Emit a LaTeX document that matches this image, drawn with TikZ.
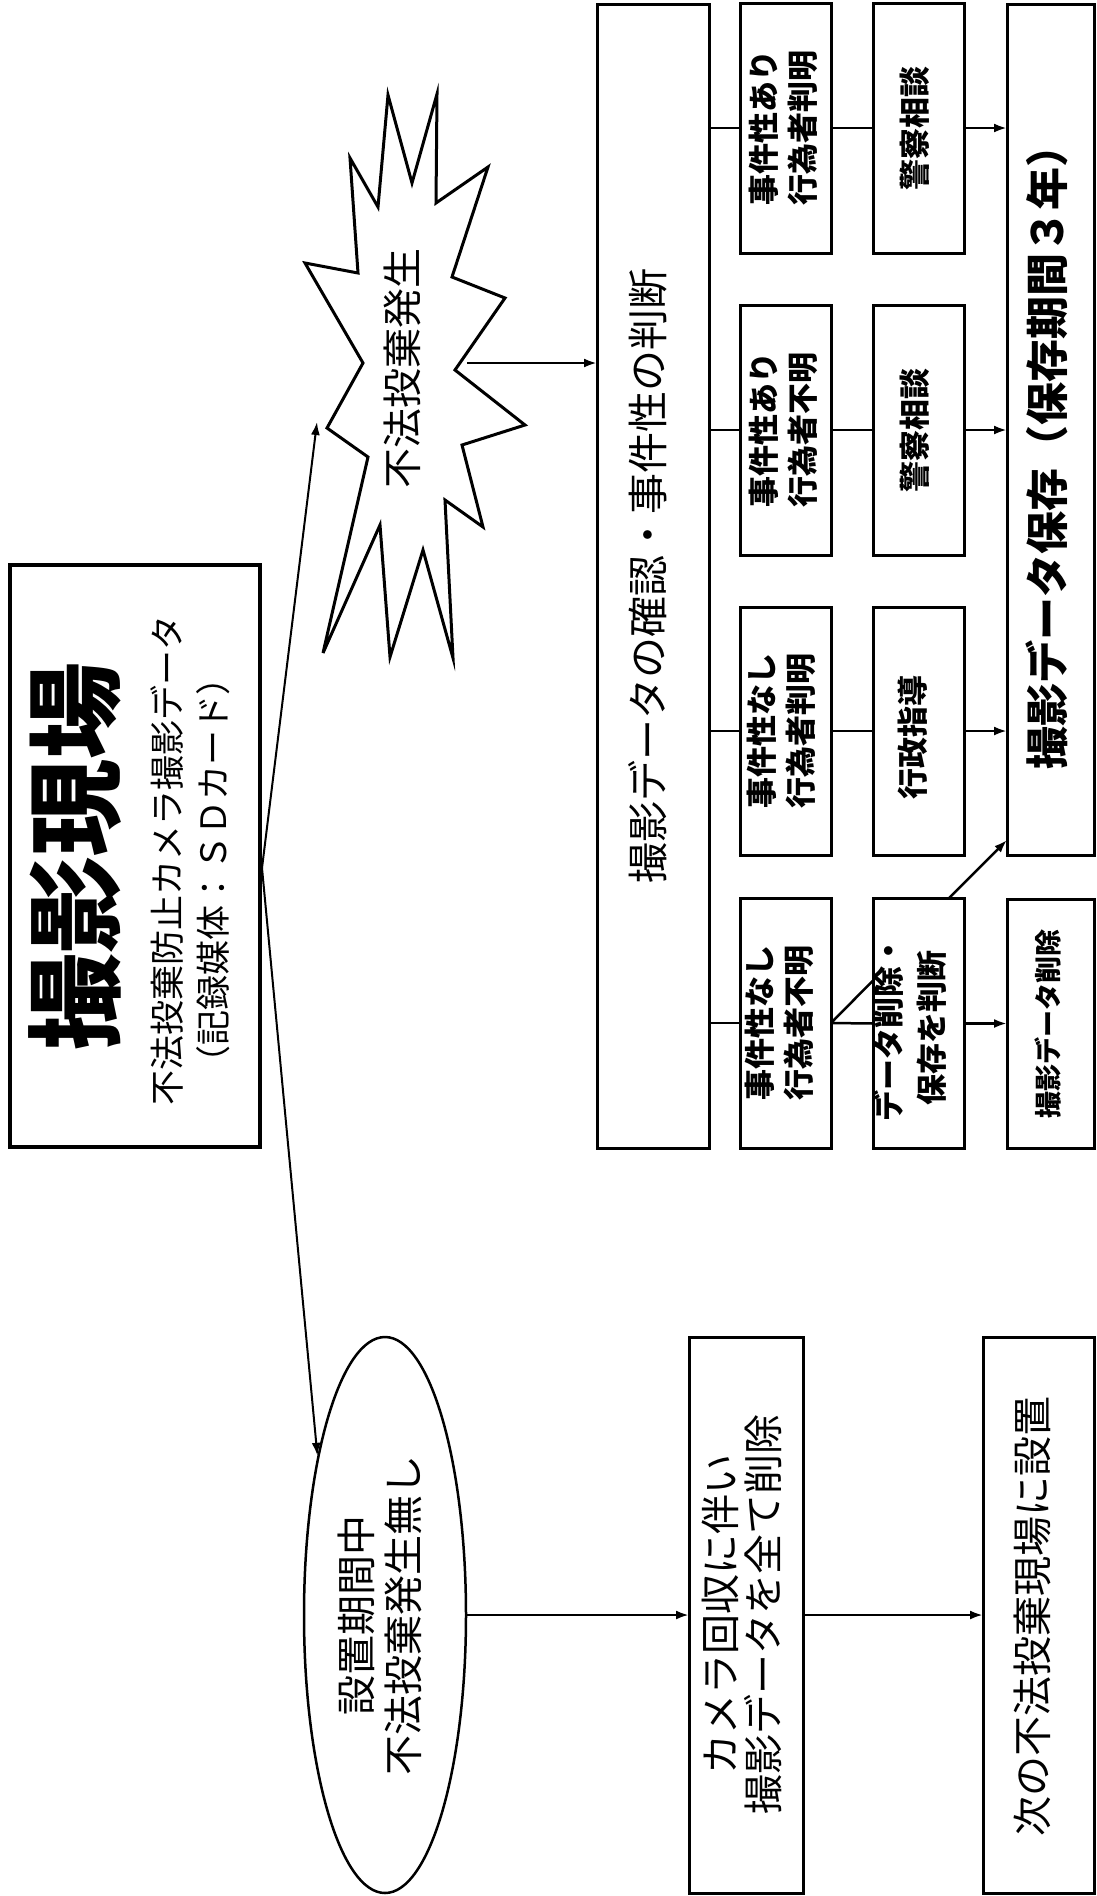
\documentclass[tikz,border=0pt]{standalone}
\usepackage{fontspec}
\setmainfont{Noto Sans CJK JP}
\usetikzlibrary{arrows.meta,shapes.geometric,calc}
\begin{document}
\begin{tikzpicture}[x=1pt,y=-1pt,
  box/.style={draw, rectangle, line width=3pt, inner sep=0pt, outer sep=0pt},
  txt/.style={inner sep=0pt, outer sep=0pt, align=center, rotate=90},
  ln/.style={line width=2.5pt},
  arr/.style={line width=2.5pt, -{Latex[length=13pt,width=9pt]}},
  thinarr/.style={line width=2pt, -{Latex[length=13pt,width=9pt]}},
  fs/.style={font=\fontsize{#1}{#1}\selectfont},
  bfs/.style={font=\fontsize{#1}{#1}\selectfont\bfseries},
]
\useasboundingbox (0,0) rectangle (1096,1896);
\fill[white] (0,0) rectangle (1096,1896);

% title box
\node[box, line width=4pt, minimum width=250pt, minimum height=582pt] (T) at (135,856) {};
\node[txt, bfs=97] (tT) at (75,856) {撮影現場};
\node[txt, fs=35] (tS1) at (167,860) {不法投棄防止カメラ撮影データ};
\node[txt, fs=35] (tS2) at (213,870) {（記録媒体：ＳＤカード）};

% starburst
\draw[line width=3pt, line join=miter] (388,95) -- (412,183) -- (437,94) -- (436,203) -- (488,167) -- (452,277) -- (505,298) -- (455,370) -- (525,425) -- (462,445) -- (483,527) -- (445,500) -- (453,658) -- (423,550) -- (390,657) -- (380,525) -- (323,653) -- (368,457) -- (327,428) -- (363,363) -- (305,263) -- (358,273) -- (350,158) -- (378,207) -- cycle;
\node[txt, fs=40] (tB) at (402,368) {不法投棄発生};
\coordinate (bL) at (317,422);
\coordinate (bR) at (467,363);

% big check box
\node[box, minimum width=112pt, minimum height=1144pt] (J) at (653,576) {};
\node[txt, fs=41] (tJ) at (648,576) {撮影データの確認・事件性の判断};

% column 2
\node[box, minimum width=91pt, minimum height=250pt] (D) at (785.5,128) {};
\node[box, minimum width=91pt, minimum height=250pt] (C) at (785.5,430) {};
\node[box, minimum width=91pt, minimum height=248pt] (B) at (785.5,731) {};
\node[box, minimum width=91pt, minimum height=250pt] (A) at (785.5,1023) {};
\node[txt, font=\fontsize{31}{39}\selectfont\bfseries] (tD) at (783,128) {事件性あり\\行為者判明};
\node[txt, font=\fontsize{31}{39}\selectfont\bfseries] (tC) at (783,430) {事件性あり\\行為者不明};
\node[txt, font=\fontsize{31}{39}\selectfont\bfseries] (tBB) at (781,731) {事件性なし\\行為者判明};
\node[txt, font=\fontsize{31}{39}\selectfont\bfseries] (tA) at (779,1023) {事件性なし\\行為者不明};

% column 3
\node[box, minimum width=91pt, minimum height=250pt] (PD) at (918.5,128) {};
\node[box, minimum width=91pt, minimum height=250pt] (PC) at (918.5,430) {};
\node[box, minimum width=91pt, minimum height=248pt] (G) at (918.5,731) {};
\node[box, minimum width=91pt, minimum height=250pt] (DD) at (918.5,1023.5) {};
\node[txt, bfs=31] (tPD) at (915,128) {警察相談};
\node[txt, bfs=31] (tPC) at (915,430) {警察相談};
\node[txt, bfs=31] (tG) at (913,737) {行政指導};
\node[txt, font=\fontsize{31}{43}\selectfont\bfseries] (tDD) at (910,1028) {データ削除・\\保存を判断};

% column 4
\node[box, minimum width=87pt, minimum height=851pt] (S) at (1050.5,429.5) {};
\node[txt, bfs=43] (tSS) at (1047,447) {撮影データ保存（保存期間３年）};
\node[box, minimum width=87pt, minimum height=249pt] (DL) at (1050.5,1023.5) {};
\node[txt, bfs=27] (tDL) at (1048,1024) {撮影データ削除};

% left branch
\node[draw, ellipse, line width=2.5pt, minimum width=162pt, minimum height=556pt, inner sep=0pt] (E) at (385,1615) {};
\node[txt, font=\fontsize{40}{47}\selectfont] (tE) at (380,1615) {設置期間中\\不法投棄発生無し};
\node[box, minimum width=114pt, minimum height=556pt] (K) at (746,1615) {};
\node[txt, font=\fontsize{40}{43}\selectfont] (tK) at (742,1614) {カメラ回収に伴い\\撮影データを全て削除};
\node[box, minimum width=111pt, minimum height=556pt] (N) at (1038.5,1615) {};
\node[txt, fs=40] (tN) at (1032,1616) {次の不法投棄現場に設置};

% connectors
\coordinate (Tsrc) at ($(T.east)+(2,12)$);
\draw[thinarr] (Tsrc) -- (bL);
\draw[thinarr] (Tsrc) -- (E.113);
\draw[arr] (bR) -- (bR -| J.west);
\foreach \n in {D,C,B,A} \draw[ln] (J.east |- \n.west) -- (\n.west);
\draw[ln] (D.east) -- (PD.west);
\draw[ln] (C.east) -- (PC.west);
\draw[ln] (B.east) -- (G.west);
\draw[ln] (A.east) -- (DD.west);
\draw[ln] (A.east) -- ($(DD.west)+(0,-43)$);
\draw[arr] (PD.east) -- (PD.east -| S.west);
\draw[arr] (PC.east) -- (PC.east -| S.west);
\draw[arr] (G.east) -- (G.east -| S.west);
\draw[arr] (DD.east) -- (DL.west);
\draw[arr] ($(DD.north)+(30,0)$) -- ($(S.south west)+(0,-15)$);
\draw[arr] (E.east) -- (K.west);
\draw[arr] (K.east) -- (N.west);
\end{tikzpicture}
\end{document}
